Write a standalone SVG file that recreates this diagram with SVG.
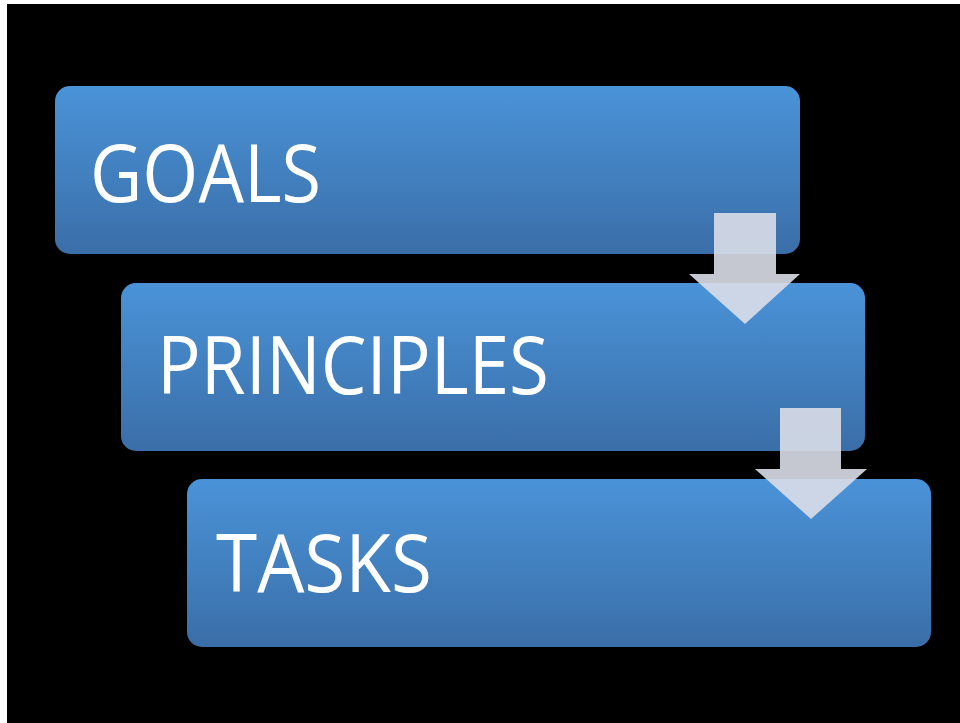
<svg xmlns="http://www.w3.org/2000/svg" width="960" height="723" viewBox="0 0 960 723">
  <defs>
    <linearGradient id="boxGrad" x1="0" y1="0" x2="0" y2="1">
      <stop offset="0" stop-color="#4A93D8"/>
      <stop offset="1" stop-color="#3A6EA8"/>
    </linearGradient>
    <style>
      .box { fill: url(#boxGrad); }
      .label { font-family: "Open Sans", "Liberation Sans", sans-serif; font-size: 80px; fill: #FFFFFF; }
      .arrow { fill: #DADEE8; fill-opacity: 0.9; }
    </style>
  </defs>
  <rect x="0" y="0" width="960" height="723" fill="#FFFFFF"/>
  <rect x="7" y="4" width="953" height="719" fill="#000000"/>
  <g id="goals">
    <rect class="box" x="55" y="86" width="745" height="168" rx="15" ry="15"/>
    <text class="label" x="90" y="202" textLength="231" lengthAdjust="spacingAndGlyphs">GOALS</text>
  </g>
  <g id="principles">
    <rect class="box" x="121" y="283" width="744" height="168" rx="15" ry="15"/>
    <text class="label" x="157" y="394" textLength="392" lengthAdjust="spacingAndGlyphs">PRINCIPLES</text>
  </g>
  <g id="tasks">
    <rect class="box" x="187" y="479" width="744" height="168" rx="15" ry="15"/>
    <text class="label" x="216" y="592" textLength="216" lengthAdjust="spacingAndGlyphs">TASKS</text>
  </g>
  <g id="connectors">
    <polygon class="arrow" points="714,213 776,213 776,274 800,274 745,324 689,274 714,274"/>
    <polygon class="arrow" points="780,408 841,408 841,469 867,469 811,519 755,469 780,469"/>
  </g>
</svg>
